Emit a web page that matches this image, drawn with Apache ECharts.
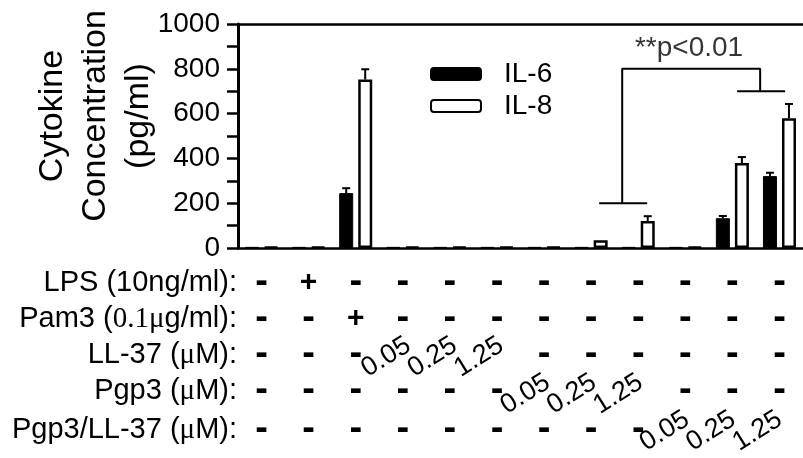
<!DOCTYPE html>
<html>
<head>
<meta charset="utf-8">
<script src="https://cdn.jsdelivr.net/npm/echarts@6/dist/echarts.min.js"></script>
<style>
  html, body { margin: 0; padding: 0; background: #fff; }
  #chart { width: 803px; height: 458px; }
</style>
</head>
<body>
<div id="chart"></div>
<script>
// treatment groups, left to right
const groups = ['Control', 'LPS', 'Pam3', 'LL-37 0.05', 'LL-37 0.25', 'LL-37 1.25',
  'Pgp3 0.05', 'Pgp3 0.25', 'Pgp3 1.25', 'Pgp3/LL-37 0.05', 'Pgp3/LL-37 0.25', 'Pgp3/LL-37 1.25'];

// pg/ml
const il6 = [5, 5, 245, 5, 5, 5, 5, 5, 5, 5, 133, 321];
const il6Err = [0, 0, 22, 0, 0, 0, 0, 0, 0, 0, 10, 15];
const il8 = [5, 5, 752, 5, 5, 5, 5, 35, 121, 5, 379, 579];
const il8Err = [0, 0, 46, 0, 0, 0, 0, 0, 21, 0, 27, 64];

// treatment table under the axis
const rowLabels = ['LPS (10ng/ml):', 'Pam3 ({s|0.1μ}g/ml):', 'LL-37 ({s|μ}M):', 'Pgp3 ({s|μ}M):', 'Pgp3/LL-37 ({s|μ}M):'];
const lpsRow   = ['-', '+', '-', '-', '-', '-', '-', '-', '-', '-', '-', '-'];
const pam3Row  = ['-', '-', '+', '-', '-', '-', '-', '-', '-', '-', '-', '-'];
const ll37Row  = ['-', '-', '-', '0.05', '0.25', '1.25', '-', '-', '-', '-', '-', '-'];
const pgp3Row  = ['-', '-', '-', '-', '-', '-', '0.05', '0.25', '1.25', '-', '-', '-'];
const comboRow = ['-', '-', '-', '-', '-', '-', '-', '-', '-', '0.05', '0.25', '1.25'];

// significance bracket, x in group units (0..12), y in pg/ml
const bracketPath = [[7.67, 200], [8.69, 200], [8.16, 200], [8.16, 800], [11.09, 800],
  [11.09, 700], [10.6, 700], [11.62, 700]];
const sigLabel = '**p<0.01';
const sigPos = [9.58, 800];

const FONT = '"Liberation Sans", Arial, sans-serif';
const rows = [lpsRow, pam3Row, ll37Row, pgp3Row, comboRow];
const isNum = s => !isNaN(parseFloat(s));

const chart = echarts.init(document.getElementById('chart'));

const dashOffsets = [35, 71, 107, 143, 182];
const tableAxes = rows.map((row, i) => ({
  type: 'category', gridIndex: 0, position: 'bottom', offset: dashOffsets[i],
  data: row.map(s => isNum(s) ? '' : s),
  name: rowLabels[i], nameLocation: 'start', nameGap: 1,
  nameTextStyle: {
    fontSize: 29, color: '#000', fontFamily: FONT, verticalAlign: 'middle',
    rich: { s: { fontSize: 29, color: '#000', fontFamily: '"Liberation Serif", serif' } }
  },
  axisLine: {show: false}, axisTick: {show: false},
  axisLabel: {
    interval: 0, margin: 0, verticalAlign: 'middle', color: '#000', fontFamily: FONT,
    formatter: s => s === '-' ? '{d|-}' : (s ? '{p|' + s + '}' : ''),
    rich: {
      d: {fontSize: 38, fontWeight: 'bold', color: '#000', fontFamily: FONT},
      p: {fontSize: 30, fontWeight: 'bold', color: '#000', fontFamily: FONT}
    }
  }
}));

const numOffsets = [97, 134, 171];
const numAxes = [ll37Row, pgp3Row, comboRow].map((row, i) => ({
  type: 'category', gridIndex: 1, position: 'bottom', offset: numOffsets[i],
  data: row.map(s => isNum(s) ? s : ''),
  axisLine: {show: false}, axisTick: {show: false},
  axisLabel: {interval: 0, margin: 0, rotate: 32, align: 'right', verticalAlign: 'middle', fontSize: 27, color: '#000', fontFamily: FONT}
}));

function errorBars(offset) {
  return function (params, api) {
    const e = api.value(2);
    if (!e) return;
    const b = api.coord([api.value(0), api.value(1)]);
    const t = api.coord([api.value(0), api.value(1) + e]);
    const x = b[0] + offset;
    const st = {stroke: '#000', lineWidth: 2};
    return {
      type: 'group',
      children: [
        {type: 'line', shape: {x1: x, y1: b[1], x2: x, y2: t[1]}, style: st},
        {type: 'line', shape: {x1: x - 4, y1: t[1], x2: x + 4, y2: t[1]}, style: st}
      ]
    };
  };
}

chart.setOption({
  animation: false,
  backgroundColor: '#fff',
  grid: [
    {left: 238, right: 0, top: 24, bottom: 210},
    {left: 246, width: 565, top: 24, bottom: 210}
  ],
  legend: {
    data: ['IL-6', 'IL-8'], orient: 'vertical', left: 430, top: 60, padding: 0,
    itemWidth: 50, itemHeight: 12, itemGap: 4,
    textStyle: {fontSize: 28, color: '#000', fontFamily: FONT, lineHeight: 28, padding: [0, 0, 0, 18]}
  },
  xAxis: [
    {
      type: 'category', gridIndex: 0, data: groups,
      axisLine: {lineStyle: {color: '#000', width: 2.5}},
      axisTick: {show: false}, axisLabel: {show: false}
    },
    {
      type: 'value', gridIndex: 0, position: 'top', min: 0, max: 12,
      axisLine: {show: true, lineStyle: {color: '#000', width: 2.5}},
      axisTick: {show: false}, axisLabel: {show: false}, splitLine: {show: false}
    },
    ...tableAxes,
    ...numAxes
  ],
  yAxis: [
    {
      type: 'value', gridIndex: 0, min: 0, max: 1000, interval: 200,
      name: 'Cytokine\nConcentration\n(pg/ml)', nameLocation: 'middle', nameRotate: 90,
      nameGap: 78, nameMoveOverlap: false,
      nameTextStyle: {fontSize: 34, lineHeight: 43, color: '#000', fontFamily: FONT, padding: [0, 0, 0, 40]},
      axisLine: {show: true, lineStyle: {color: '#000', width: 3}},
      axisTick: {show: true, length: 11, lineStyle: {color: '#000', width: 2.5}},
      minorTick: {show: true, splitNumber: 2, length: 11, lineStyle: {color: '#000', width: 2.5}},
      splitLine: {show: false},
      axisLabel: {fontSize: 28, color: '#000', margin: 18, fontFamily: FONT, formatter: v => String(v)}
    },
    {type: 'value', gridIndex: 1, show: false, min: 0, max: 1}
  ],
  series: [
    {
      name: 'IL-6', type: 'bar', xAxisIndex: 0, yAxisIndex: 0, data: il6,
      barWidth: 14, barGap: '36%',
      itemStyle: {color: '#000', borderColor: '#000', borderWidth: 1}
    },
    {
      name: 'IL-8', type: 'bar', xAxisIndex: 0, yAxisIndex: 0, data: il8,
      barWidth: 14, barGap: '36%',
      itemStyle: {color: '#fff', borderColor: '#000', borderWidth: 2.5}
    },
    {
      type: 'custom', xAxisIndex: 0, yAxisIndex: 0, z: 5,
      renderItem: errorBars(-9.5),
      data: il6.map((v, i) => [i, v, il6Err[i]])
    },
    {
      type: 'custom', xAxisIndex: 0, yAxisIndex: 0, z: 5,
      renderItem: errorBars(9.5),
      data: il8.map((v, i) => [i, v, il8Err[i]])
    },
    {
      type: 'line', xAxisIndex: 1, yAxisIndex: 0, data: bracketPath,
      symbol: 'none', silent: true, z: 6,
      lineStyle: {color: '#000', width: 2}
    },
    {
      type: 'scatter', xAxisIndex: 1, yAxisIndex: 0, data: [sigPos],
      symbolSize: 1, itemStyle: {color: 'rgba(0,0,0,0)'}, silent: true,
      label: {show: true, position: 'top', distance: 6, formatter: sigLabel, fontSize: 28, color: '#000', fontFamily: FONT}
    }
  ]
});
</script>
</body>
</html>
